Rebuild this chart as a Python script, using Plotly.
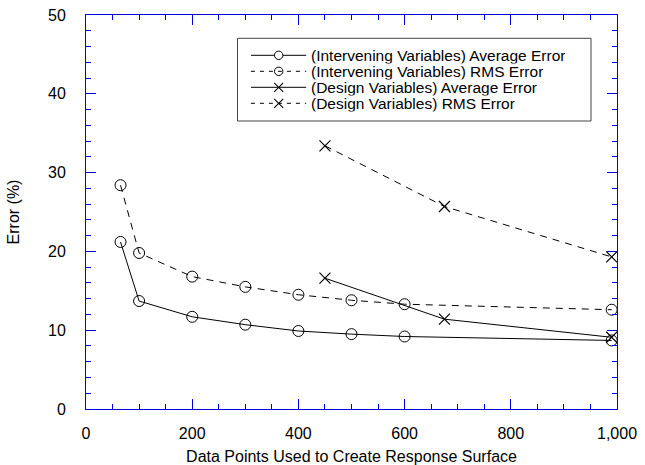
import plotly.graph_objects as go

# ---- data ----
iv_x = [65, 100, 200, 300, 400, 500, 600, 990]
iv_avg = [21.2, 13.7, 11.7, 10.7, 9.9, 9.5, 9.2, 8.7]
iv_rms = [28.4, 19.8, 16.8, 15.5, 14.5, 13.8, 13.3, 12.6]
dv_x = [450, 675, 990]
dv_avg = [16.6, 11.4, 9.1]
dv_rms = [33.4, 25.7, 19.3]

legend_labels = [
    "(Intervening Variables) Average Error",
    "(Intervening Variables) RMS Error",
    "(Design Variables) Average Error",
    "(Design Variables) RMS Error",
]

FONT = "Liberation Sans, Arial, Helvetica, sans-serif"
AXC = "#0000e0"
FS = 16
LFS = 15.5
W, H = 645, 465
L, R, T, B = 85.7, 28, 14.7, 56.3
PW, PH = W - L - R, H - T - B

def px(x):
    return (x - L) / PW

def py(y):
    return (H - B - y) / PH

fig = go.Figure()
dash_plot = "7px,6px"
fig.add_trace(go.Scatter(x=iv_x, y=iv_avg, mode="lines+markers", showlegend=False,
                         line=dict(color="black", width=1),
                         marker=dict(symbol="circle-open", size=11, color="black", line=dict(width=1))))
fig.add_trace(go.Scatter(x=iv_x, y=iv_rms, mode="lines+markers", showlegend=False,
                         line=dict(color="black", width=1, dash=dash_plot),
                         marker=dict(symbol="circle-open", size=11, color="black", line=dict(width=1))))
fig.add_trace(go.Scatter(x=dv_x, y=dv_avg, mode="lines+markers", showlegend=False,
                         line=dict(color="black", width=1),
                         marker=dict(symbol="x-thin-open", size=11, color="black", line=dict(width=1.2))))
fig.add_trace(go.Scatter(x=dv_x, y=dv_rms, mode="lines+markers", showlegend=False,
                         line=dict(color="black", width=1, dash=dash_plot),
                         marker=dict(symbol="x-thin-open", size=11, color="black", line=dict(width=1.2))))

# ---- manual legend ----
shapes = []
annotations = []
bx0, bx1, by0, by1 = 237.3, 591, 38, 120.7
shapes.append(dict(type="rect", xref="paper", yref="paper", x0=px(bx0), x1=px(bx1),
                   y0=py(by1), y1=py(by0), line=dict(color="#444444", width=1),
                   fillcolor="white", layer="above"))
rows = [55, 71, 87, 103]
lx0, lx1, mx = 250.7, 306, 278.5
for i, ry in enumerate(rows):
    dash = "solid" if i % 2 == 0 else "4px,5px"
    shapes.append(dict(type="line", xref="paper", yref="paper", x0=px(lx0), x1=px(lx1),
                       y0=py(ry), y1=py(ry), line=dict(color="black", width=1, dash=dash),
                       layer="above"))
    if i < 2:
        r = 4.2
        shapes.append(dict(type="circle", xref="paper", yref="paper",
                           x0=px(mx - r), x1=px(mx + r), y0=py(ry + r), y1=py(ry - r),
                           line=dict(color="black", width=1),
                           fillcolor="white" if i == 0 else "rgba(0,0,0,0)", layer="above"))
    else:
        r = 4.5
        shapes.append(dict(type="line", xref="paper", yref="paper",
                           x0=px(mx - r), x1=px(mx + r), y0=py(ry - r), y1=py(ry + r),
                           line=dict(color="black", width=1.1), layer="above"))
        shapes.append(dict(type="line", xref="paper", yref="paper",
                           x0=px(mx - r), x1=px(mx + r), y0=py(ry + r), y1=py(ry - r),
                           line=dict(color="black", width=1.1), layer="above"))
    annotations.append(dict(xref="paper", yref="paper", x=px(310), y=py(ry + 0.3),
                            xanchor="left", yanchor="middle", showarrow=False,
                            height=15.4, valign="middle", borderpad=0,
                            text=legend_labels[i], font=dict(family=FONT, size=LFS, color="black")))

axis_common = dict(
    showline=True, linecolor=AXC, linewidth=1, mirror="ticks",
    ticks="inside", tickcolor=AXC, ticklen=10, tickwidth=1,
    showgrid=False, zeroline=False, automargin=False,
    tickfont=dict(family=FONT, size=FS, color="black"),
)

fig.update_layout(
    width=W, height=H, autosize=False,
    margin=dict(l=L, r=R, t=T, b=B, pad=0),
    paper_bgcolor="white", plot_bgcolor="white",
    font=dict(family=FONT, color="black"),
    showlegend=False,
    shapes=shapes, annotations=annotations,
    xaxis=dict(range=[0, 1000], tickvals=[0, 200, 400, 600, 800, 1000], tickformat=",",
               minor=dict(dtick=50, ticks="inside", ticklen=5, tickcolor=AXC, tickwidth=1),
               ticklabelstandoff=10,
               title=dict(text="Data Points Used to Create Response Surface",
                          font=dict(family=FONT, size=FS, color="black"), standoff=17),
               **axis_common),
    yaxis=dict(range=[0, 50], dtick=10,
               minor=dict(dtick=2, ticks="inside", ticklen=5, tickcolor=AXC, tickwidth=1),
               ticklabelstandoff=16,
               title=dict(text="Error (%)", font=dict(family=FONT, size=FS, color="black"), standoff=24),
               **axis_common),
)

fig.write_html("out.html")
